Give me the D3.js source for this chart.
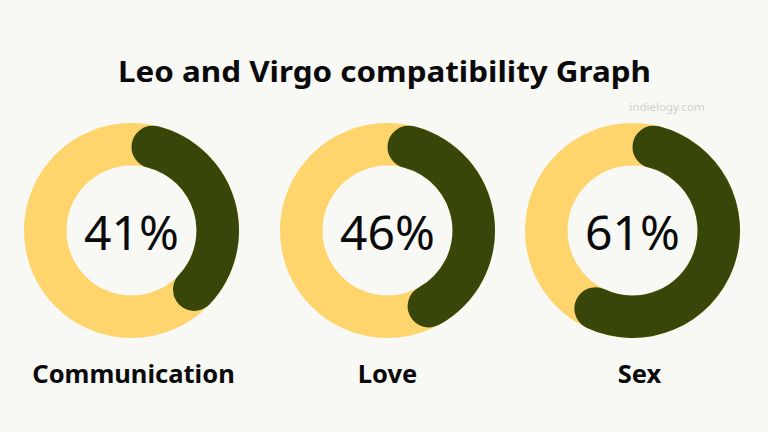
<!DOCTYPE html>
<html>
<head>
<meta charset="utf-8">
<script src="https://cdn.jsdelivr.net/npm/d3@7"></script>
<style>
  html, body { margin: 0; padding: 0; background: #f8f8f4; }
  svg { display: block; }
</style>
</head>
<body>
<svg id="chart"></svg>
<script>
// chart data
const categories = ["Communication", "Love", "Sex"];
const percents = [41, 46, 61];
const title = "Leo and Virgo compatibility Graph";
const credit = "indielogy.com";

const width = 768, height = 432;
const svg = d3.select('#chart').attr('width', width).attr('height', height);

svg.append('rect').attr('width', width).attr('height', height).attr('fill', '#f8f8f4');

// horizontal placement of each donut
const x = d3.scaleOrdinal().domain(categories).range([131.5, 387.5, 632.5]);
const pct = d3.scaleLinear().domain([0, 100]).range([0, 2 * Math.PI]);
const cy = 230.5;

const outerR = 107.5, innerR = 65;

const ringArc = d3.arc().innerRadius(innerR).outerRadius(outerR);
const valueArc = d3.arc().innerRadius(innerR).outerRadius(outerR).cornerRadius((outerR - innerR) / 2);

// title
svg.append('text')
  .attr('x', 384.5).attr('y', 82)
  .attr('text-anchor', 'middle')
  .attr('font-family', 'Noto Sans')
  .attr('font-weight', 700)
  .attr('font-size', 28)
  .attr('textLength', 533)
  .attr('lengthAdjust', 'spacingAndGlyphs')
  .attr('fill', '#0a0a0a')
  .text(title);

svg.append('text')
  .attr('x', 667).attr('y', 111)
  .attr('text-anchor', 'middle')
  .attr('font-family', 'Noto Sans')
  .attr('font-size', 11.5)
  .attr('fill', '#cfcfcf')
  .text(credit);

const data = categories.map((c, i) => ({ label: c, value: percents[i] }));

const donuts = svg.append('g').attr('class', 'donuts')
  .selectAll('g')
  .data(data)
  .enter().append('g')
  .attr('transform', d => `translate(${x(d.label)},${cy})`);

// yellow background ring
donuts.append('path')
  .attr('d', () => ringArc({ startAngle: 0, endAngle: 2 * Math.PI }))
  .attr('fill', '#fed46c');

// dark value arc with rounded ends
donuts.append('path')
  .attr('d', d => valueArc({ startAngle: 0, endAngle: pct(d.value) }))
  .attr('fill', '#384709');

// percentage in the middle
donuts.append('text')
  .attr('y', 19.5)
  .attr('text-anchor', 'middle')
  .attr('font-family', 'Noto Sans')
  .attr('font-size', 48)
  .attr('fill', '#0a0a0a')
  .text(d => d.value + '%');

// category labels
svg.append('g').attr('class', 'labels')
  .selectAll('text')
  .data(data)
  .enter().append('text')
  .attr('x', d => x(d.label) + (d.label === 'Love' ? 0 : d.label === 'Sex' ? 7 : 2))
  .attr('y', 382.5)
  .attr('text-anchor', 'middle')
  .attr('font-family', 'Noto Sans')
  .attr('font-weight', 700)
  .attr('font-size', 25.5)
  .attr('fill', '#0a0a0a')
  .text(d => d.label);
</script>
</body>
</html>
